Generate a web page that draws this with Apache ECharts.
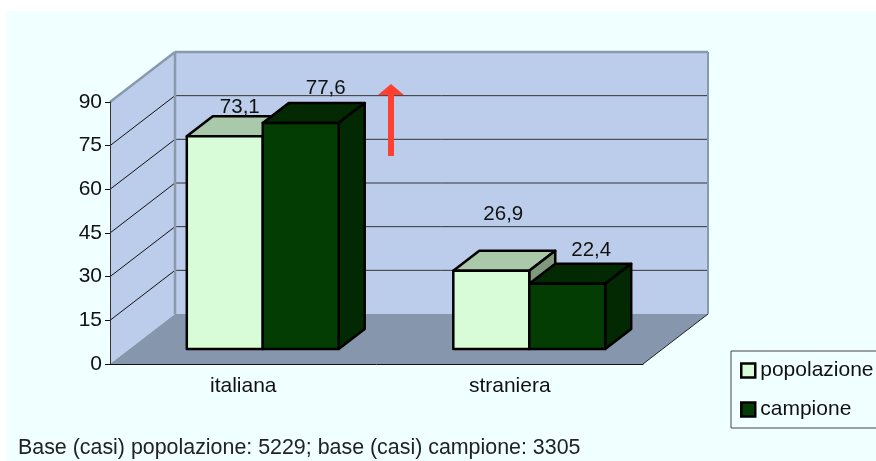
<!DOCTYPE html>
<html>
<head>
<meta charset="utf-8">
<style>
  html, body { margin: 0; padding: 0; background: #fff; }
  #chart { width: 876px; height: 461px; }
</style>
<script src="https://cdn.jsdelivr.net/npm/echarts@6/dist/echarts.min.js"></script>
</head>
<body>
<div id="chart"></div>
<script>
const categories = ["italiana", "straniera"];
const popolazione = [73.1, 26.9];
const campione = [77.6, 22.4];
const yTicks = [0, 15, 30, 45, 60, 75, 90];
const footer = "Base (casi) popolazione: 5229; base (casi) campione: 3305";

// finta prospettiva: spostamento in pixel tra piano frontale e parete di fondo
const DEPTH_X = 65;
const DEPTH_Y = 50;
const BAR_FRONT = 0.3;
const BAR_BACK = 0.7;
const BAR_WIDTH = 0.285; // quota della banda di categoria
const FONT = "20.5px 'Liberation Sans', Arial, sans-serif";
const BG = "#f0ffff";

// etichette spostate a mano come nell'originale
const labelNudgePop = [[15, -29], [12, -56]];
const labelNudgeCamp = [[25, -35], [24, -33]];

const depth = (p, d) => [p[0] + d * DEPTH_X, p[1] - d * DEPTH_Y];
const fmt = (v) => v.toFixed(1).replace(".", ",");

function renderWalls(params, api) {
  const band = api.size([1, 0])[0];
  const leftX = api.coord([0, 0])[0] - band / 2;
  const rightX = api.coord([categories.length - 1, 0])[0] + band / 2;
  const y0 = api.coord([0, yTicks[0]])[1];
  const yTop = api.coord([0, yTicks[yTicks.length - 1]])[1];
  const fl = [leftX, y0], fr = [rightX, y0], tl = [leftX, yTop];
  const bl = depth(fl, 1), br = depth(fr, 1), btl = depth(tl, 1), btr = [br[0], btl[1]];
  const poly = (points, fill) => ({ type: "polygon", shape: { points }, style: { fill } });
  const line = (a, b, stroke, lineWidth) => ({
    type: "line",
    shape: { x1: a[0], y1: a[1], x2: b[0], y2: b[1] },
    style: { stroke, lineWidth }
  });
  const children = [
    poly([bl, br, btr, btl], "#bccdeb"),
    poly([fl, bl, btl, tl], "#bccdeb"),
    poly([fl, fr, br, bl], "#8696ac")
  ];
  yTicks.slice(1, -1).forEach((t) => {
    const y = api.coord([0, t])[1];
    children.push(line([leftX, y], depth([leftX, y], 1), "#111", 1));
    children.push(line(depth([leftX, y], 1), depth([rightX, y], 1), "#333", 1));
  });
  children.push(line(tl, btl, "#8a99ac", 2.5));
  children.push(line(btl, btr, "#8a99ac", 2.5));
  children.push(line(btl, bl, "#8a99ac", 2.5));
  children.push(line(btr, br, "#8a99ac", 2));
  children.push(line(fr, br, "#222", 1));
  return { type: "group", children };
}

// side: -1 barra a sinistra del centro, 0 barra a destra
function makeBarRenderer(side, colors, nudges) {
  return (params, api) => {
    const idx = api.value(0);
    const val = api.value(1);
    const w = api.size([1, 0])[0] * BAR_WIDTH;
    const base = api.coord([idx, 0]);
    const top = api.coord([idx, val]);
    const x0 = base[0] + side * w;
    const x1 = x0 + w;
    const fb0 = depth([x0, base[1]], BAR_FRONT), fb1 = depth([x1, base[1]], BAR_FRONT);
    const ft0 = depth([x0, top[1]], BAR_FRONT), ft1 = depth([x1, top[1]], BAR_FRONT);
    const bt0 = depth([x0, top[1]], BAR_BACK), bt1 = depth([x1, top[1]], BAR_BACK);
    const bb1 = depth([x1, base[1]], BAR_BACK);
    const face = (points, fill) => ({
      type: "polygon",
      shape: { points },
      style: { fill, stroke: "#000", lineWidth: 2.5, lineJoin: "round" }
    });
    const nudge = nudges[idx];
    return {
      type: "group",
      children: [
        face([ft0, ft1, bt1, bt0], colors.top),
        face([ft1, fb1, bb1, bt1], colors.side),
        face([ft0, ft1, fb1, fb0], colors.front),
        {
          type: "text",
          style: {
            text: fmt(val),
            x: (ft0[0] + ft1[0]) / 2 + nudge[0],
            y: ft0[1] + nudge[1],
            align: "center",
            verticalAlign: "middle",
            font: FONT,
            fill: "#111"
          }
        }
      ]
    };
  };
}

const toData = (values) => values.map((v, i) => [i, v]);

const chart = echarts.init(document.getElementById("chart"));
chart.setOption({
  animation: false,
  backgroundColor: "#fff",
  textStyle: { fontFamily: "'Liberation Sans', Arial, sans-serif" },
  title: {
    text: footer,
    left: 18,
    top: 438,
    padding: 0,
    textStyle: { fontSize: 21.4, fontWeight: "normal", color: "#222" }
  },
  legend: {
    orient: "vertical",
    left: 731,
    top: 351,
    padding: [9, 12, 8, 9],
    itemGap: 18,
    itemWidth: 14,
    itemHeight: 14,
    icon: "rect",
    backgroundColor: BG,
    borderColor: "#444",
    borderWidth: 1,
    data: ["popolazione", "campione"],
    itemStyle: { borderColor: "#000", borderWidth: 2.5 },
    textStyle: { fontSize: 21, color: "#111" },
    selectedMode: false
  },
  grid: { left: 110, top: 102, width: 533, height: 262 },
  xAxis: {
    type: "category",
    data: categories,
    z: 5,
    axisLine: { lineStyle: { color: "#111", width: 1 } },
    axisTick: { length: 5, lineStyle: { color: "#111" } },
    axisLabel: { fontSize: 21, color: "#111", margin: 12 }
  },
  yAxis: {
    type: "value",
    min: 0,
    max: 90,
    interval: 15,
    z: 5,
    splitLine: { show: false },
    axisLine: { show: true, lineStyle: { color: "#333", width: 1 } },
    axisTick: { show: true, length: 5, lineStyle: { color: "#111" } },
    axisLabel: { fontSize: 21, color: "#111", margin: 8 }
  },
  series: [
    {
      type: "custom",
      name: "pareti",
      silent: true,
      data: [[0, 0]],
      encode: { x: 0, y: 1 },
      renderItem: renderWalls
    },
    {
      type: "custom",
      name: "popolazione",
      data: toData(popolazione),
      encode: { x: 0, y: 1 },
      itemStyle: { color: "#d8fbd8" },
      renderItem: makeBarRenderer(-1, { front: "#d8fbd8", top: "#aac8aa", side: "#7f997f" }, labelNudgePop)
    },
    {
      type: "custom",
      name: "campione",
      data: toData(campione),
      encode: { x: 0, y: 1 },
      itemStyle: { color: "#033d03" },
      renderItem: makeBarRenderer(0, { front: "#033d03", top: "#022902", side: "#022902" }, labelNudgeCamp)
    }
  ],
  graphic: [
    { type: "rect", z: -10, silent: true, shape: { x: 6, y: 11, width: 870, height: 450 }, style: { fill: BG } },
    {
      // freccia rossa di annotazione
      type: "polygon",
      z: 100,
      silent: true,
      shape: { points: [[388, 156], [394, 156], [394, 95], [404, 95], [391, 84], [378, 95], [388, 95]] },
      style: { fill: "#ff4030" }
    }
  ]
});
</script>
</body>
</html>
